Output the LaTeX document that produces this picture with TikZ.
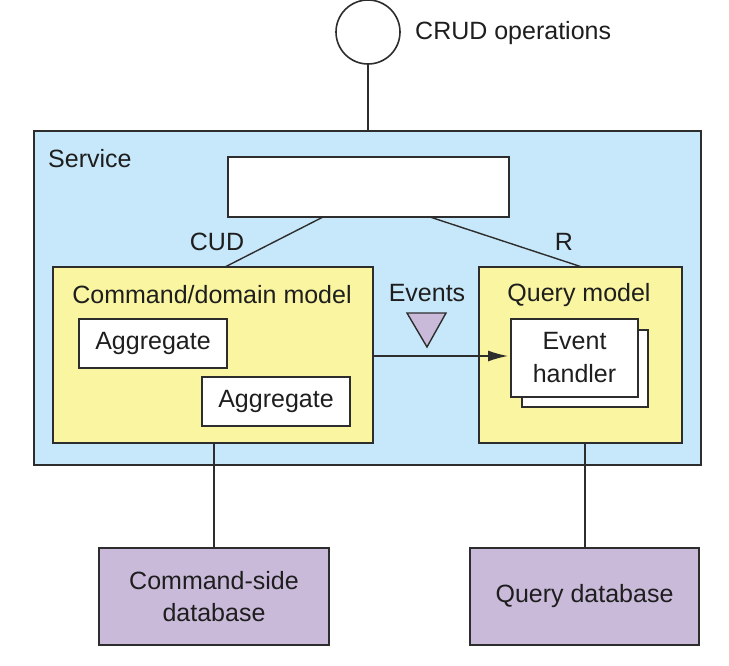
\documentclass[tikz,border=0pt]{standalone}
\usepackage{fontspec}
\setmainfont{Liberation Sans}
\usetikzlibrary{arrows.meta}
\definecolor{svcblue}{RGB}{199,232,250}
\definecolor{modyellow}{RGB}{250,245,160}
\definecolor{dbpurple}{RGB}{202,186,218}
\definecolor{linegray}{RGB}{45,45,45}
\definecolor{txt}{RGB}{30,30,30}
\tikzset{
  boxline/.style={draw=linegray, line width=1.6pt},
  rbox/.style={boxline, rectangle, inner sep=0pt, outer sep=0pt, anchor=north west},
  lbl/.style={text=txt, font=\fontsize{25}{29}\selectfont, inner sep=0pt},
  conn/.style={draw=linegray, line width=1.4pt},
}
\begin{document}
\begin{tikzpicture}[x=1pt,y=-1pt]
\useasboundingbox (0,0) rectangle (729,665);
% top interface circle
\node[boxline, circle, minimum size=64pt, inner sep=0pt, outer sep=0pt, fill=white] (ifc) at (368,32) {};
\node[lbl, anchor=west] (crud) at (415,33) {CRUD operations};
% service
\node[rbox, fill=svcblue, minimum width=667pt, minimum height=334pt] (svc) at (34,131) {};
\node[lbl, anchor=west] (svclbl) at (48,159) {Service};
% white API box
\node[rbox, fill=white, minimum width=281pt, minimum height=60pt] (api) at (228,157) {};
% command model
\node[rbox, fill=modyellow, minimum width=320pt, minimum height=176pt] (cmd) at (53,267) {};
\node[lbl] (cmdlbl) at (212,295) {Command/domain model};
\node[rbox, fill=white, minimum width=148pt, minimum height=49pt] (agg1) at (79,319) {};
\node[lbl] at (agg1.center) {Aggregate};
\node[rbox, fill=white, minimum width=148pt, minimum height=49pt] (agg2) at (202,377) {};
\node[lbl] at (agg2.center) {Aggregate};
% query model
\node[rbox, fill=modyellow, minimum width=203pt, minimum height=176pt] (qry) at (479,267) {};
\node[lbl] (qrylbl) at (579,295) {Query model};
\node[rbox, fill=white, minimum width=126pt, minimum height=77pt] (ehback) at (522,330) {};
\node[rbox, fill=white, minimum width=127pt, minimum height=78pt] (eh) at (511,319) {};
\node[lbl, align=center, font=\fontsize{25}{33}\selectfont] at (eh.center) {Event\\handler};
% events
\node[lbl] (evlbl) at (427,293) {Events};
\coordinate (t1) at (407,313);
\coordinate (t2) at (446,313);
\coordinate (t3) at (427,347);
\draw[boxline, line width=1.4pt, fill=dbpurple, line join=miter] (t1) -- (t2) -- (t3) -- cycle;
% databases
\node[rbox, fill=dbpurple, minimum width=230pt, minimum height=97pt] (cdb) at (99,548) {};
\node[lbl, align=center, font=\fontsize{25}{32}\selectfont] at (cdb.center) {Command-side\\database};
\node[rbox, fill=dbpurple, minimum width=229pt, minimum height=97pt] (qdb) at (470,548) {};
\node[lbl] at (qdb.center) {Query database};
% connectors
\draw[conn] (ifc.south) -- (svc.north -| ifc.south);
\draw[conn] ([xshift=95pt]api.south west) -- ([xshift=172pt]cmd.north west);
\node[lbl] (cud) at (217,242) {CUD};
\draw[conn] ([xshift=202pt]api.south west) -- ([xshift=103pt]qry.north west);
\node[lbl] (r) at (564,242) {R};
\draw[conn, -{Latex[length=20pt,width=11pt]}, shorten >=3pt] (cmd.east |- 0,356) -- (eh.west |- 0,356);
\draw[conn] ([xshift=161pt]cmd.south west) -- ([xshift=115pt]cdb.north west);
\draw[conn] ([xshift=106pt]qry.south west) -- ([xshift=115pt]qdb.north west);
\end{tikzpicture}
\end{document}
